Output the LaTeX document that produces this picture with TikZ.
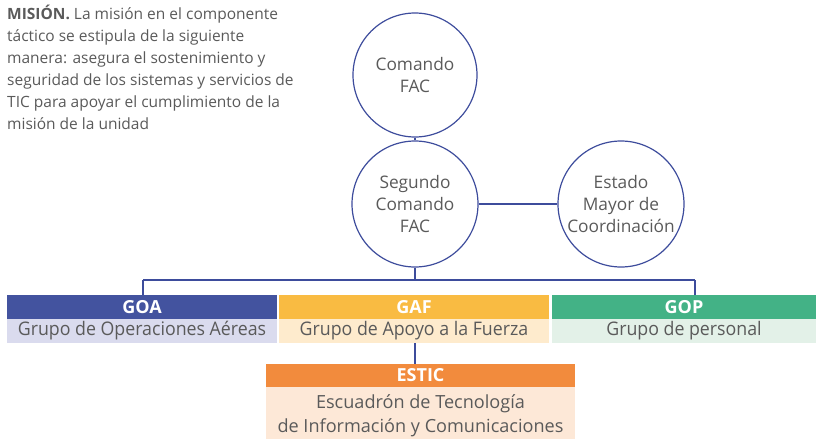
\documentclass[tikz,border=0pt]{standalone}
\usepackage{fontspec}
\setmainfont{Open Sans}
\newfontfamily\condfont[FakeStretch=0.95]{Open Sans}
\definecolor{txtgray}{HTML}{5A5A5A}
\definecolor{lineblue}{HTML}{3D4C9C}
\definecolor{goahead}{HTML}{43539F}
\definecolor{goabody}{HTML}{DADBEE}
\definecolor{gafhead}{HTML}{F9BB42}
\definecolor{gafbody}{HTML}{FEEBCD}
\definecolor{gophead}{HTML}{43B286}
\definecolor{gopbody}{HTML}{E3F1E8}
\definecolor{estichead}{HTML}{F28B3D}
\definecolor{esticbody}{HTML}{FDE8D7}
\begin{document}
\begin{tikzpicture}[x=1pt,y=-1pt,
  conn/.style={draw=lineblue,line width=1.2pt},
  orgcircle/.style={circle,draw=lineblue,line width=1.2pt,minimum size=126pt,inner sep=0pt,
    align=center,text=txtgray,font=\fontsize{17.3}{22}\selectfont},
  headbox/.style={rectangle,inner sep=0pt,minimum height=24pt,text=white,
    font=\fontsize{18}{20}\selectfont\bfseries},
  bodybox/.style={rectangle,inner sep=0pt,minimum height=24pt,text=txtgray,
    font=\condfont\fontsize{18.7}{20}\selectfont}]
\useasboundingbox (0,0) rectangle (816,439);
% mission text
\node[anchor=north west,align=left,inner sep=0pt,text=txtgray,
  font=\fontsize{15.5}{22}\selectfont] (mision) at (7,5)
  {\textbf{MISIÓN.} La misión en el componente\\
   táctico se estipula de la siguiente\\
   manera: asegura el sostenimiento y\\
   seguridad de los sistemas y servicios de\\
   TIC para apoyar el cumplimiento de la\\
   misión de la unidad};
% circles
\node[orgcircle,minimum size=124pt] (cmd) at (415,75) {Comando\\FAC};
\node[orgcircle] (seg) at (415,204) {Segundo\\Comando\\FAC};
\node[orgcircle] (emc) at (621,204) {Estado\\Mayor de\\Coordinación};
% boxes
\node[headbox,fill=goahead,minimum width=270pt] (goah) at (142,307) {GOA};
\node[bodybox,fill=goabody,minimum width=270pt] (goab) at (142,331) {Grupo de Operaciones Aéreas};
\node[headbox,fill=gafhead,minimum width=270pt] (gafh) at (414,307) {GAF};
\node[bodybox,fill=gafbody,minimum width=270pt] (gafb) at (414,331) {Grupo de Apoyo a la Fuerza};
\node[headbox,fill=gophead,minimum width=264pt] (goph) at (684,307) {GOP};
\node[bodybox,fill=gopbody,minimum width=264pt] (gopb) at (684,331) {Grupo de personal};
\node[headbox,fill=estichead,minimum width=309pt,minimum height=23pt] (esth) at (420.5,375.5) {ESTIC};
\node[bodybox,fill=esticbody,minimum width=309pt,minimum height=52pt,align=center,
  font=\fontsize{18.1}{24}\selectfont] (estb) at (420.5,413)
  {\rule{0pt}{19pt}Escuadrón de Tecnología\\de Información y Comunicaciones};
% connectors
\coordinate (jl) at (143,280);
\coordinate (jr) at (695,280);
\draw[conn] (cmd.south) -- (seg.north);
\draw[conn] (seg.east) -- (emc.west);
\draw[conn] (seg.south) -- (seg.south |- jl);
\draw[conn] (jl) -- (jr);
\draw[conn] (jl) -- (jl |- goah.north);
\draw[conn] (jr) -- (jr |- goph.north);
\draw[conn] (gafb.south -| seg.south) -- (seg.south |- esth.north);
\end{tikzpicture}
\end{document}
